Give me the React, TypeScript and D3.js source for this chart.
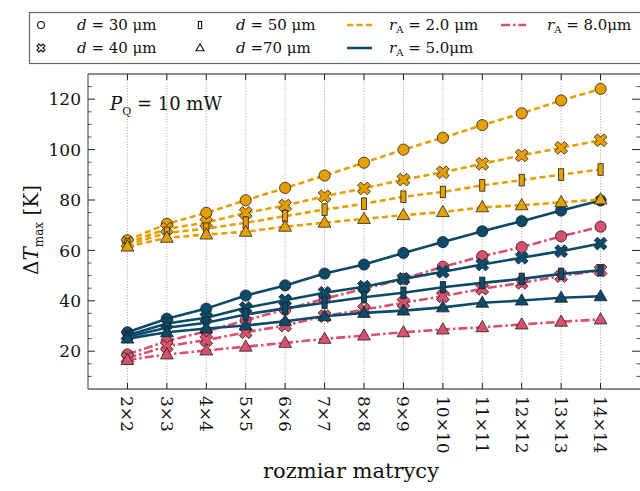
import React from "react";
import * as d3 from "d3";

// ---------- data ----------
const sizes = [2, 3, 4, 5, 6, 7, 8, 9, 10, 11, 12, 13, 14];
const categories = sizes.map((n) => `${n}×${n}`);
const yTicks = [20, 40, 60, 80, 100, 120];
const diameters = [30, 40, 50, 70];
const radii = [2.0, 5.0, 8.0];

// rA = 2.0 µm
const o30 = [64.0, 70.5, 74.9, 79.9, 84.8, 89.7, 94.8, 100.0, 104.7, 109.7, 114.4, 119.5, 124.1];
const o40 = [63.0, 68.6, 71.0, 74.9, 77.8, 81.5, 84.6, 88.1, 91.0, 94.4, 97.7, 100.7, 103.7];
const o50 = [62.3, 67.0, 68.6, 71.0, 73.6, 76.2, 78.5, 81.3, 83.2, 85.8, 87.9, 90.1, 92.1];
const o70 = [61.5, 65.0, 66.3, 67.4, 69.4, 71.0, 72.5, 74.0, 75.2, 77.1, 77.9, 79.1, 80.2];
// rA = 5.0 µm
const b30 = [27.5, 32.9, 36.9, 42.1, 46.1, 50.8, 54.4, 59.0, 63.3, 67.6, 71.6, 75.8, 79.8];
const b40 = [26.3, 31.0, 33.3, 37.2, 40.2, 43.2, 45.6, 48.7, 51.5, 54.4, 57.1, 59.7, 62.7];
const b50 = [25.7, 29.3, 31.3, 34.6, 37.0, 39.2, 41.4, 43.2, 45.4, 47.1, 48.7, 50.7, 52.1];
const b70 = [25.0, 27.5, 29.0, 30.2, 31.9, 33.9, 35.2, 36.1, 37.4, 39.2, 40.1, 41.2, 41.8];
// rA = 8.0 µm (no d = 50 µm series visible in the figure)
const p30 = [18.7, 24.0, 27.9, 32.3, 36.5, 40.8, 44.8, 48.7, 53.5, 57.7, 61.3, 65.6, 69.4];
const p40 = [17.2, 22.0, 24.4, 27.5, 30.2, 33.9, 36.5, 39.2, 41.8, 44.8, 47.1, 49.8, 52.1];
const p70 = [16.5, 18.7, 20.3, 21.8, 23.3, 24.9, 26.2, 27.5, 28.6, 29.5, 30.6, 31.7, 32.6];

const valuesByD: Record<number, (number[] | null)[]> = {
  30: [o30, b30, p30],
  40: [o40, b40, p40],
  50: [o50, b50, null],
  70: [o70, b70, p70],
};

// ---------- styles ----------
const colors = ["#E69F00", "#0B4A6A", "#D9506E"];
const dashes = ["6,3.5", "none", "9,3,2.5,3"];
const FONT = "'DejaVu Serif', serif";

const W = 640;
const H = 491;
const left = 88;
const right = 640;
const top = 74;
const bottom = 389;

const x = d3.scaleLinear().domain([1, 15]).range([left, right]);
const y = d3.scaleLinear().domain([5, 130]).range([bottom, top]);

function xPath(s: number, w: number) {
  const pts: [number, number][] = [
    [-w, -s], [w, -s], [w, -w], [s, -w], [s, w], [w, w], [w, s], [-w, s], [-w, w], [-s, w], [-s, -w], [-w, -w],
  ];
  const c = Math.SQRT1_2;
  return (
    "M" +
    pts.map(([a, b]) => `${(a * c - b * c).toFixed(2)},${(a * c + b * c).toFixed(2)}`).join("L") +
    "Z"
  );
}

function Marker({ d, cx, cy, fill, stroke, sw, scale = 1 }: any) {
  const k = scale;
  if (d === 30) return <circle cx={cx} cy={cy} r={5.6 * k} fill={fill} stroke={stroke} strokeWidth={sw} />;
  if (d === 40)
    return <path d={xPath(6.8 * k, 2.3 * k)} transform={`translate(${cx},${cy})`} fill={fill} stroke={stroke} strokeWidth={sw} />;
  if (d === 50)
    return <rect x={cx - 2.6 * k} y={cy - 5.8 * k} width={5.2 * k} height={11.6 * k} fill={fill} stroke={stroke} strokeWidth={sw} />;
  const s = 6.4 * k;
  return (
    <path
      d={`M${cx},${cy - s * 1.05}L${cx + s},${cy + s * 0.7}L${cx - s},${cy + s * 0.7}Z`}
      fill={fill}
      stroke={stroke}
      strokeWidth={sw}
    />
  );
}

export default function App() {
  const line = d3
    .line<number>()
    .x((_, i) => x(sizes[i]))
    .y((v) => y(v));

  const minor = d3.range(10, 130, 5).filter((v) => v % 20 !== 0);

  const series: any[] = [];
  diameters.forEach((d) => {
    radii.forEach((r, ri) => {
      const vals = valuesByD[d][ri];
      if (vals) series.push({ d, ri, vals });
    });
  });

  const frame = "#666";

  return (
    <svg width={W} height={H} style={{ position: "absolute", left: 0, top: 0, background: "#fff" }} fontFamily={FONT}>
      <rect x={0} y={0} width={W} height={H} fill="#fff" />
      {sizes.map((n) => (
        <line key={"g" + n} x1={x(n)} x2={x(n)} y1={top} y2={bottom} stroke="#999" strokeWidth={0.8} strokeDasharray="1.2,1.6" />
      ))}
      {series.map((s, si) => (
        <g key={si}>
          <path
            d={line(s.vals) || ""}
            fill="none"
            stroke={colors[s.ri]}
            strokeWidth={2.6}
            strokeDasharray={dashes[s.ri]}
          />
          {s.vals.map((v: number, i: number) => (
            <Marker key={i} d={s.d} cx={x(sizes[i])} cy={y(v)} fill={colors[s.ri]} stroke="#222" sw={0.8} />
          ))}
        </g>
      ))}
      <line x1={left} x2={left} y1={top} y2={bottom} stroke={frame} strokeWidth={1.3} />
      <line x1={left} x2={right} y1={bottom} y2={bottom} stroke={frame} strokeWidth={1.3} />
      <line x1={left} x2={right} y1={top} y2={top} stroke={frame} strokeWidth={1.3} />
      {yTicks.map((t) => (
        <g key={"yt" + t}>
          <line x1={left} x2={left + 7} y1={y(t)} y2={y(t)} stroke="#222" strokeWidth={1} />
          <line x1={right - 8} x2={right} y1={y(t)} y2={y(t)} stroke="#222" strokeWidth={1} />
          <text x={left - 7} y={y(t)} dy="0.36em" textAnchor="end" fontSize={17} fill="#111">
            {t}
          </text>
        </g>
      ))}
      {minor.map((t) => (
        <g key={"ym" + t}>
          <line x1={left} x2={left + 3.5} y1={y(t)} y2={y(t)} stroke="#222" strokeWidth={0.8} />
          <line x1={right - 3.5} x2={right} y1={y(t)} y2={y(t)} stroke="#222" strokeWidth={0.8} />
        </g>
      ))}
      {sizes.map((n, i) => (
        <g key={"xt" + n}>
          <line x1={x(n)} x2={x(n)} y1={bottom} y2={bottom - 6} stroke="#222" strokeWidth={1} />
          <line x1={x(n)} x2={x(n)} y1={top} y2={top + 6} stroke="#222" strokeWidth={1} />
          <text
            transform={`translate(${x(n)},${bottom + 7}) rotate(90)`}
            dy="0.36em"
            textAnchor="start"
            fontSize={17}
            fill="#111"
          >
            {categories[i]}
          </text>
        </g>
      ))}
      <text x={351} y={478} textAnchor="middle" fontSize={21} fill="#111">
        rozmiar matrycy
      </text>
      <text transform={`translate(38,${230}) rotate(-90)`} textAnchor="middle" fontSize={20} fill="#111">
        Δ<tspan fontStyle="italic">T</tspan>
        <tspan fontSize={12} dy={5}>max</tspan>
        <tspan dy={-5}> [K]</tspan>
      </text>
      <text x={110} y={110} fontSize={18} fill="#111">
        <tspan fontStyle="italic">P</tspan>
        <tspan fontSize={11} dy={5}>Q</tspan>
        <tspan dy={-5}> = 10 mW</tspan>
      </text>
      <rect x={29.5} y={12.5} width={620} height={51} fill="#fff" stroke="#666" strokeWidth={1.2} />
      {[
        { d: 30, cx: 41, cy: 25, label: "30 μm", tx: 77 },
        { d: 40, cx: 41, cy: 48, label: "40 μm", tx: 77 },
        { d: 50, cx: 200, cy: 25, label: "50 μm", tx: 236 },
        { d: 70, cx: 200, cy: 48, label: "70 μm", tx: 236, tight: true },
      ].map((l) => (
        <g key={"l" + l.d}>
          <Marker d={l.d} cx={l.cx} cy={l.cy} fill="#fff" stroke="#111" sw={1.1} scale={0.62} />
          <text x={l.tx} y={l.cy + 5} fontSize={15} fill="#111">
            <tspan fontStyle="italic">d</tspan>
            {l.tight ? " =" + l.label : " = " + l.label}
          </text>
        </g>
      ))}
      {[
        { ri: 0, x0: 347, cy: 25, tx: 389, label: " = 2.0 μm" },
        { ri: 1, x0: 347, cy: 48, tx: 389, label: " = 5.0μm" },
        { ri: 2, x0: 501, cy: 25, tx: 547, label: " = 8.0μm" },
      ].map((l) => (
        <g key={"r" + l.ri}>
          <line x1={l.x0} x2={l.x0 + 25} y1={l.cy} y2={l.cy} stroke={colors[l.ri]} strokeWidth={2.6} strokeDasharray={dashes[l.ri]} />
          <text x={l.tx} y={l.cy + 5} fontSize={15} fill="#111">
            <tspan fontStyle="italic">r</tspan>
            <tspan fontSize={10} dy={3}>A</tspan>
            <tspan dy={-3}>{l.label}</tspan>
          </text>
        </g>
      ))}
    </svg>
  );
}
